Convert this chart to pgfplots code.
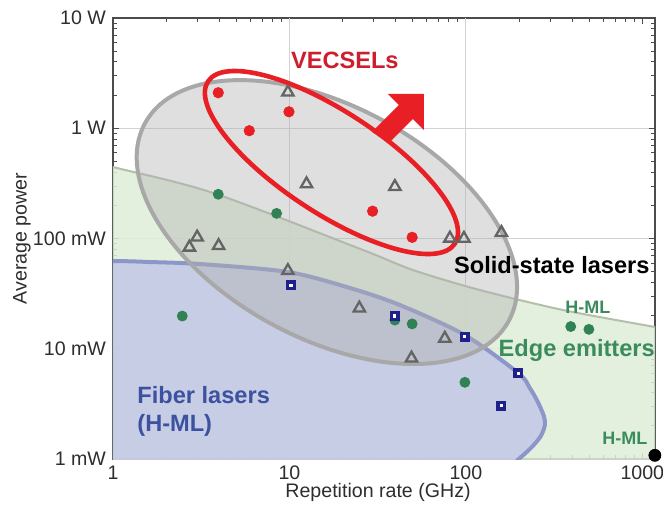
\documentclass[border=0pt]{standalone}
\usepackage{fontspec}
\setmainfont{Liberation Sans}
\usepackage{pgfplots}
\pgfplotsset{compat=1.18}
\usetikzlibrary{shapes.geometric}

\definecolor{vred}{RGB}{232,32,38}
\definecolor{vredtext}{RGB}{205,30,45}
\definecolor{egreen}{RGB}{48,130,85}
\definecolor{egreentext}{RGB}{58,140,92}
\definecolor{ftext}{RGB}{60,82,160}
\definecolor{fnavy}{RGB}{30,32,140}
\definecolor{tgray}{RGB}{100,100,100}
\definecolor{greenfill}{RGB}{223,237,216}
\definecolor{greenline}{RGB}{178,192,170}
\definecolor{bluefill}{RGB}{195,200,229}
\definecolor{blueline}{RGB}{140,150,200}
\definecolor{ellfill}{RGB}{175,175,175}
\definecolor{ellline}{RGB}{168,168,168}
\definecolor{labgray}{RGB}{45,45,45}

\begin{document}
\begin{tikzpicture}
\begin{axis}[
    scale only axis,
    width=271pt, height=220.5pt,
    xmode=log, ymode=log,
    xmin=1, xmax=1180, ymin=0.001, ymax=10,
    xtick={1,10,100,1000},
    xticklabels={1,10,100,1000},
    ytick={0.001,0.01,0.1,1,10},
    yticklabels={1 mW,10 mW,100 mW,1 W,10 W},
    minor xtick={2,3,4,5,6,7,8,9,20,30,40,50,60,70,80,90,200,300,400,500,600,700,800,900},
    minor ytick={0.002,0.003,0.004,0.005,0.006,0.007,0.008,0.009,
                 0.02,0.03,0.04,0.05,0.06,0.07,0.08,0.09,
                 0.2,0.3,0.4,0.5,0.6,0.7,0.8,0.9,2,3,4,5,6,7,8,9},
    ymajorgrids=true,
    extra x ticks={10,100},
    extra x tick labels={},
    extra x tick style={grid=major, major tick length=0pt},
    major grid style={gray!35, line width=0.5pt},
    axis line style={gray!60!black, line width=0.6pt},
    tick style={gray!60!black, line width=0.4pt},
    major tick length=3pt, minor tick length=2pt,
    tick label style={font=\fontsize{9.8}{11}\selectfont, text=labgray},
    label style={font=\fontsize{9.8}{11}\selectfont, text=labgray},
    xlabel={Repetition rate (GHz)},
    ylabel={Average power},
    xlabel style={at={(axis description cs:0.489,-0.075)}, anchor=center},
    ylabel style={at={(axis description cs:-0.168,0.5)}, anchor=center},
]
\coordinate (sw) at (rel axis cs:0,0);
\coordinate (ne) at (rel axis cs:1,1);

% edge emitters region
\addplot[smooth, fill=greenfill, fill opacity=0.85, draw=greenline, line width=1pt]
  coordinates {(0.5,0.593) (1,0.445) (3.69,0.259) (26.1,0.0787) (50.1,0.0518)
               (120,0.0341) (354,0.0225) (1178,0.01575) (2500,0.0126)
               (2500,0.0003) (0.5,0.0003)};

% fiber lasers region
\addplot[smooth, fill=bluefill, fill opacity=0.85, draw=blueline, line width=2pt]
  coordinates {(0.3,0.0003) (0.3,0.0626) (1,0.0625) (1.62,0.0612) (3.11,0.0587)
               (9.8,0.0497) (22,0.0356) (42.3,0.0249) (98.7,0.0133) (198,0.00603)
               (230.5,0.0044) (255.8,0.00329) (276.7,0.002455) (280.4,0.002035)
               (266,0.001617) (236.6,0.001285) (202.3,0.001021) (166,0.000795)
               (81,0.000425)};

% solid-state lasers ellipse
\node[ellipse, draw=ellline, line width=2pt, fill=ellfill, fill opacity=0.4,
      draw opacity=1, inner sep=0pt, outer sep=0pt,
      minimum width=207pt, minimum height=116pt, rotate=-28.5]
  at (axis cs:16.3,0.141) {};

% solid-state lasers
\addplot[only marks, mark=triangle, mark size=3.3pt, tgray,
         mark options={line width=1.15pt}]
  coordinates {(9.8,2.12) (12.5,0.312) (3.0,0.1026) (2.71,0.0832) (3.97,0.086)
               (39.6,0.295) (81.2,0.1004) (97.5,0.100) (159,0.113) (9.8,0.051)
               (24.9,0.0233) (76,0.0124) (49.2,0.0082)};

% edge emitters
\addplot[only marks, mark=*, mark size=2.5pt, egreen]
  coordinates {(3.95,0.252) (8.46,0.169) (2.47,0.0198) (49.6,0.0168)
               (98.7,0.00496) (393,0.0159) (498,0.0150) (39.6,0.0182)};

% fiber lasers
\addplot[only marks, mark=square*, mark size=1.65pt,
         mark options={draw=fnavy, fill=white, line width=1.7pt}]
  coordinates {(10.2,0.0376) (39.6,0.0198) (98.7,0.0129) (198,0.0060) (159,0.00305)};

% VECSELs ellipse and arrow
\node[ellipse, draw=vred, line width=2.3pt, inner sep=0pt, outer sep=0pt,
      minimum width=147.7pt, minimum height=50.7pt, rotate=-33.3]
  at (axis cs:17.3,0.489) {};
\fill[vred] (axis cs:57.8,2.05) -- +(-18pt,0pt) -- +(-12.5pt,-5.5pt)
  -- +(-26pt,-19pt) -- +(-17.5pt,-24.5pt) -- +(-5.5pt,-12.5pt)
  -- +(0pt,-18pt) -- cycle;

% VECSELs
\addplot[only marks, mark=*, mark size=2.6pt, vred]
  coordinates {(3.95,2.10) (9.94,1.41) (5.92,0.95) (29.6,0.177) (49.6,0.1025)};

% single point at the corner
\addplot[only marks, mark=*, mark size=3pt, black]
  coordinates {(1178,0.00108)};

% labels
\node[text=vredtext, font=\fontsize{11.8}{14}\selectfont\bfseries]
  at (axis cs:20.6,4.16) {VECSELs};
\node[text=black, font=\fontsize{11.8}{14}\selectfont\bfseries]
  at (axis cs:307,0.0575) {Solid-state lasers};
\node[text=egreentext, font=\fontsize{11.8}{14}\selectfont\bfseries]
  at (axis cs:425,0.00975) {Edge emitters};
\node[text=egreentext, font=\fontsize{9}{11}\selectfont\bfseries]
  at (axis cs:491,0.0239) {H-ML};
\node[text=egreentext, font=\fontsize{9}{11}\selectfont\bfseries]
  at (axis cs:796,0.00155) {H-ML};
\node[text=ftext, font=\fontsize{11.8}{14}\selectfont\bfseries,
      anchor=west, align=left, inner sep=0pt]
  at (axis cs:1.368,0.00273) {Fiber lasers\\(H-ML)};
\end{axis}
\pgfresetboundingbox
\path[use as bounding box] ([xshift=-56.5pt,yshift=-23.5pt]sw) rectangle ([xshift=4pt,yshift=9pt]ne);
\end{tikzpicture}
\end{document}
